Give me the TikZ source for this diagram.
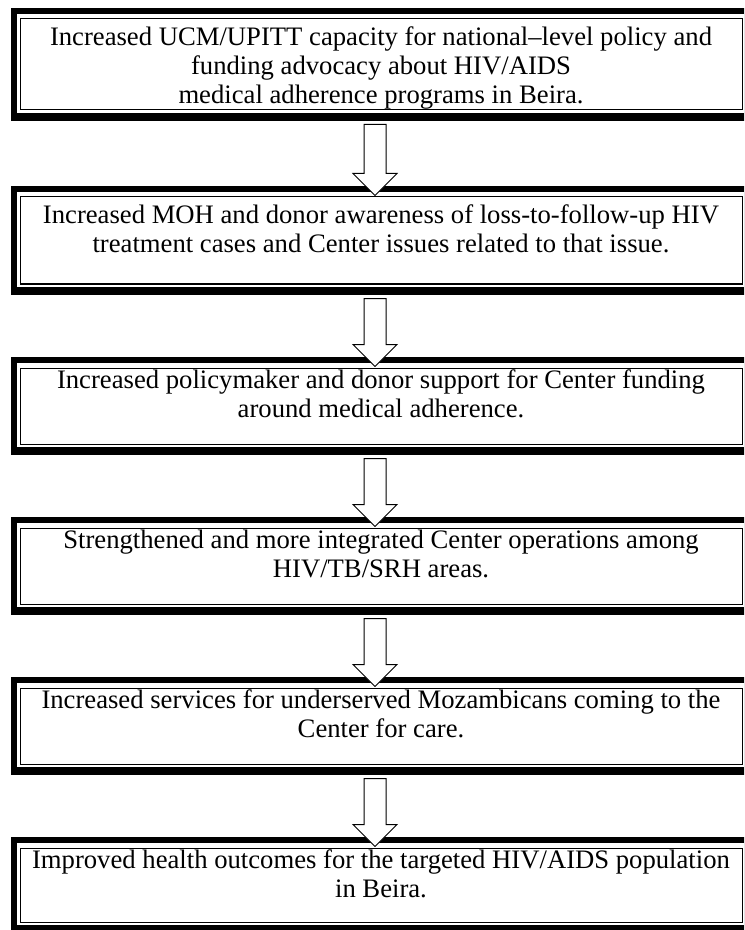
\documentclass[tikz,border=0pt]{standalone}
\usepackage{fontspec}
\setmainfont{Liberation Serif}
\usetikzlibrary{calc}

\begin{document}
\begin{tikzpicture}[
    x=0.75pt, y=-0.75pt,
    stage/.style={rectangle,draw,line width=0.75pt,minimum width=541.5pt,
                  inner sep=0pt},
    txt/.style={align=center,anchor=north,inner sep=0pt,
                font=\fontsize{20}{21.75}\selectfont},
    band/.style={fill=black},
    blockarr/.style={draw,fill=white,line width=0.75pt,miter limit=10},
]
\useasboundingbox (0,0) rectangle (744,930);
\clip (0,0) rectangle (744,930);

% =====================================================================
%  framed stages (thick band top/left/bottom, thin inner line)
% =====================================================================
\foreach \n/\t/\b in {1/8/121,2/186/295,3/357/455,4/517/615,5/677/775,6/837/933}{
  \pgfmathsetmacro{\m}{(\t+\b)/2}
  \pgfmathsetmacro{\h}{(\b-\t-22)*0.75}
  \fill[band] (11,\t) rectangle (760,\b);
  \fill[white] (17,\t+6) rectangle (760,\b-8);
  \node[stage,minimum height=\h pt] (s\n) at (381,\m) {};
}

% =====================================================================
%  texts (top of the first line's strut given)
% =====================================================================
\node[txt] (t1) at (381,24.7) {\strut Increased UCM/UPITT capacity for national--level policy and\\
    funding advocacy about HIV/AIDS\\ medical adherence programs in Beira.};
\node[txt] (t2) at (381,202.7) {\strut Increased MOH and donor awareness of loss-to-follow-up HIV\\
    treatment cases and Center issues related to that issue.};
\node[txt] (t3) at (381,368.2) {\strut Increased policymaker and donor support for Center funding\\
    around medical adherence.};
\node[txt] (t4) at (381,528.2) {\strut Strengthened and more integrated Center operations among\\
    HIV/TB/SRH areas.};
\node[txt] (t5) at (381,688.2) {\strut Increased services for underserved Mozambicans coming to the\\
    Center for care.};
\node[txt] (t6) at (381,848.2) {\strut Improved health outcomes for the targeted HIV/AIDS population\\
    in Beira.};

% =====================================================================
%  hollow block arrows between stages
% =====================================================================
\foreach \a/\b in {1/2,2/3,3/4,4/5,5/6}{
  \coordinate (top\a) at ($(s\a.south)+(-6,14)$);
  \coordinate (tip\a) at ($(s\b.north)+(-6,-1)$);
  \draw[blockarr] ($(top\a)+(-11,0)$) -- ($(tip\a)+(-11,-22)$)
      -- ($(tip\a)+(-22,-22)$) -- (tip\a) -- ($(tip\a)+(22,-22)$)
      -- ($(tip\a)+(11,-22)$) -- ($(top\a)+(11,0)$) -- cycle;
}

\end{tikzpicture}
\end{document}
